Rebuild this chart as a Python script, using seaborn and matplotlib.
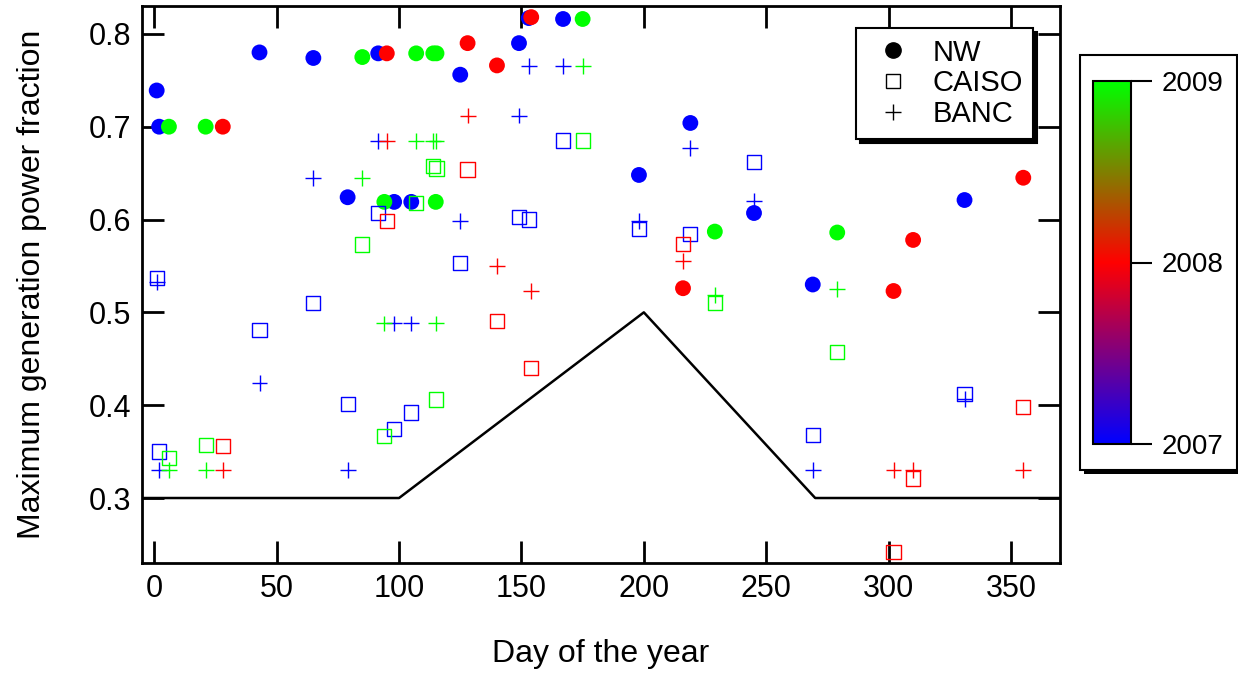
import matplotlib as mpl
import matplotlib.pyplot as plt
import pandas as pd
import seaborn as sns
from matplotlib.colors import LinearSegmentedColormap, Normalize
from matplotlib.lines import Line2D
from matplotlib.patches import Rectangle

# events: day of year, year, max generation fraction for each region
days_2007 = [1, 2, 43, 65, 79, 91.5, 98, 105, 125, 149, 153, 167, 198, 219, 245, 269, 331]
nw_2007 = [0.739, 0.700, 0.780, 0.774, 0.624, 0.779, 0.619, 0.619, 0.756, 0.790, 0.817,
           0.816, 0.648, 0.704, 0.607, 0.530, 0.621]
caiso_2007 = [0.537, 0.350, 0.481, 0.510, 0.401, 0.607, 0.374, 0.392, 0.553, 0.603, 0.600,
              0.685, 0.590, 0.584, 0.662, 0.368, 0.412]
banc_2007 = [0.533, 0.330, 0.424, 0.645, 0.330, 0.685, 0.488, 0.488, 0.598, 0.712, 0.765,
             0.765, 0.598, 0.677, 0.620, 0.330, 0.407]

days_2008 = [28, 95, 128, 140, 154, 216, 302, 310, 355]
nw_2008 = [0.700, 0.779, 0.790, 0.766, 0.818, 0.526, 0.523, 0.578, 0.645]
caiso_2008 = [0.356, 0.598, 0.654, 0.491, 0.440, 0.574, 0.242, 0.321, 0.398]
banc_2008 = [0.330, 0.685, 0.712, 0.550, 0.523, 0.555, 0.330, 0.330, 0.330]

days_2009 = [6, 21, 85, 94, 107, 114, 115.3, 115, 175, 229, 279]
nw_2009 = [0.700, 0.700, 0.775, 0.619, 0.779, 0.779, 0.779, 0.619, 0.816, 0.587, 0.586]
caiso_2009 = [0.343, 0.357, 0.573, 0.367, 0.618, 0.658, 0.655, 0.406, 0.685, 0.510, 0.457]
banc_2009 = [0.330, 0.330, 0.645, 0.488, 0.685, 0.685, 0.685, 0.488, 0.765, 0.519, 0.525]

# threshold curve
limit_day = [-10, 100, 200, 270, 380]
limit_frac = [0.3, 0.3, 0.5, 0.3, 0.3]

x_ticks = [0, 50, 100, 150, 200, 250, 300, 350]
y_ticks = [0.3, 0.4, 0.5, 0.6, 0.7, 0.8]
y_tick_labels = ["0.3", "0.4", "0.5", "0.6", "0.7", "0.8"]
years = [2007, 2008, 2009]
year_colors = ["#0000ff", "#ff0000", "#00ff00"]
legend_labels = ["NW", "CAISO", "BANC"]

df = pd.DataFrame({
    "day": days_2007 + days_2008 + days_2009,
    "year": [2007] * len(days_2007) + [2008] * len(days_2008) + [2009] * len(days_2009),
    "nw": nw_2007 + nw_2008 + nw_2009,
    "caiso": caiso_2007 + caiso_2008 + caiso_2009,
    "banc": banc_2007 + banc_2008 + banc_2009,
})
palette = dict(zip(years, year_colors))

sns.set_style("ticks")
plt.rcParams["font.family"] = ["Liberation Sans", "DejaVu Sans"]
plt.rcParams.update({"text.color": "black", "axes.labelcolor": "black",
                     "xtick.color": "black", "ytick.color": "black"})

W, H = 1238, 673
fig = plt.figure(figsize=(W / 100, H / 100), dpi=100)
ax = fig.add_axes([142 / W, 1 - 563 / H, 918 / W, 557 / H])

sns.lineplot(x=limit_day, y=limit_frac, color="black", lw=1.8, ax=ax)

sns.scatterplot(data=df, x="day", y="nw", hue="year", palette=palette, marker="o",
                s=130, linewidth=0, legend=False, ax=ax)
sns.scatterplot(data=df, x="day", y="caiso", hue="year", palette=palette, marker="s",
                s=105, legend=False, ax=ax)
sq = ax.collections[-1]
sq.set_edgecolors(sq.get_facecolors())
sq.set_facecolors("none")
sq.set_linewidth(1.0)
sns.scatterplot(data=df, x="day", y="banc", hue="year", palette=palette, marker="+",
                s=130, linewidth=1.0, legend=False, ax=ax)

ax.set_xlim(-5, 370)
ax.set_ylim(0.23, 0.83)
ax.set_xticks(x_ticks)
ax.set_yticks(y_ticks)
ax.set_yticklabels(y_tick_labels)
ax.tick_params(direction="in", length=16, width=2, top=True, right=True,
               labelsize=22, pad=8, color="black", labelcolor="black")
for sp in ax.spines.values():
    sp.set_linewidth(2)
    sp.set_color("black")
ax.set_xlabel("Day of the year", fontsize=23, labelpad=25)
ax.set_ylabel("Maximum generation power fraction", fontsize=23, labelpad=30)

handles = [
    Line2D([], [], marker="o", ls="none", color="black", markersize=11),
    Line2D([], [], marker="s", ls="none", mfc="none", mec="black", markersize=10, mew=1),
    Line2D([], [], marker="+", ls="none", color="black", markersize=12, mew=1),
]
leg = ax.legend(handles, legend_labels, loc="upper right", bbox_to_anchor=(0.9706, 0.9605),
                borderaxespad=0, fontsize=21, frameon=True, fancybox=False,
                shadow={"color": "black", "alpha": 1, "ox": 3, "oy": -3}, framealpha=1,
                handlelength=1.8, handletextpad=0.45, borderpad=0.36, labelspacing=0.1)
leg.get_frame().set_edgecolor("black")
leg.get_frame().set_linewidth(1.5)

# colour scale box
fig.add_artist(Rectangle((1084 / W, 1 - 474 / H), 157 / W, 415 / H, transform=fig.transFigure,
                         facecolor="black", edgecolor="none", zorder=-2))
fig.add_artist(Rectangle((1080 / W, 1 - 470 / H), 157 / W, 415 / H, transform=fig.transFigure,
                         facecolor="white", edgecolor="black", lw=1.5, zorder=-1))

cmap = LinearSegmentedColormap.from_list("years", year_colors)
cax = fig.add_axes([1093 / W, 1 - 444 / H, 38 / W, 363 / H])
sm = mpl.cm.ScalarMappable(norm=Normalize(years[0], years[-1]), cmap=cmap)
cb = fig.colorbar(sm, cax=cax, ticks=years)
cb.ax.set_yticklabels([str(y) for y in years])
cb.outline.set_linewidth(1.5)
cb.outline.set_edgecolor("black")
cax.tick_params(direction="out", length=15, width=1.5, labelsize=20, pad=7,
                color="black", labelcolor="black")

fig.savefig("out.png", dpi=100)
